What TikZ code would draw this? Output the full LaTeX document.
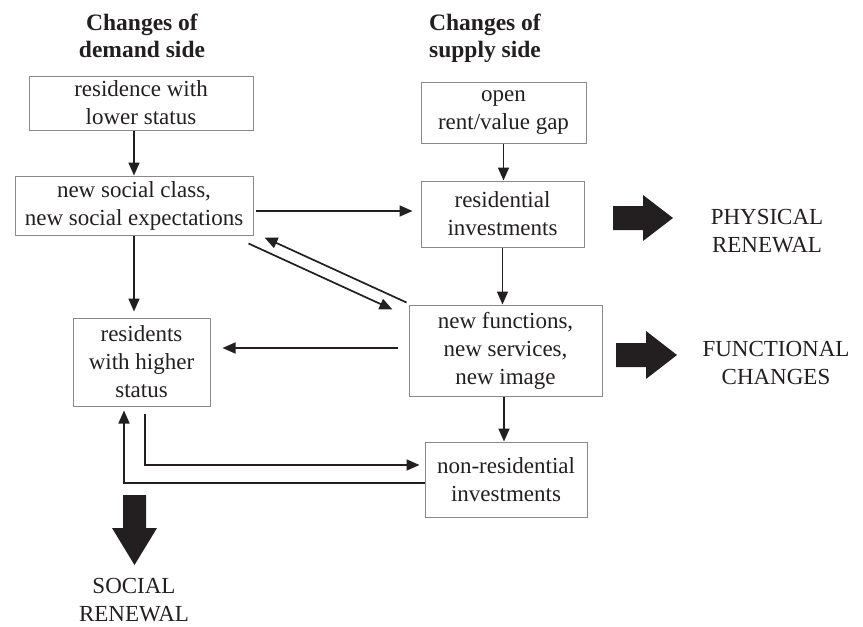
\documentclass[tikz,border=0pt]{standalone}
\usepackage{fontspec}
\setmainfont{Liberation Serif}
\usetikzlibrary{calc,arrows.meta}
\definecolor{ink}{HTML}{231F20}
\definecolor{frame}{HTML}{8A8A8A}
\begin{document}
\begin{tikzpicture}[x=1pt,y=-1pt,
  txt/.style={font=\fontsize{23}{28}\selectfont, text=ink, align=center, inner sep=0pt},
  box/.style={txt, draw=frame, line width=1pt, rectangle},
  head/.style={font=\fontsize{23.5}{27}\selectfont\bfseries, text=ink, align=center, inner sep=0pt, anchor=north},
  arr/.style={draw=ink, line width=1.7pt, -{Triangle[length=13pt,width=11pt]}}]
\useasboundingbox (0,0) rectangle (863,627);

% column headings
\node[head] (hdemand) at (142,13.5) {Changes of\\demand side};
\node[head] (hsupply) at (485,13.5) {Changes of\\supply side};

% demand side
\node[box, minimum width=224pt, minimum height=54pt] (A) at (141,103) {residence with\\lower status};
\node[box, minimum width=238pt, minimum height=59pt] (B) at (134,205.5) {new social class,\\new social expectations};
\node[box, minimum width=137pt, minimum height=88pt] (C) at (141.5,362) {residents\\with higher\\status};

% supply side
\node[box, minimum width=165pt, minimum height=61pt] (D) at (503.5,112.5) {open\\rent/value gap};
\node[box, minimum width=163pt, minimum height=66pt] (E) at (502.5,214) {residential\\investments};
\node[box, minimum width=193pt, minimum height=91pt] (F) at (505.5,350.5) {new functions,\\new services,\\new image};
\node[box, minimum width=162pt, minimum height=75pt] (G) at (506,479.5) {non-residential\\investments};

% outcomes
\node[txt] (phys) at (767,231.5) {PHYSICAL\\RENEWAL};
\node[txt] (func) at (776,362.7) {FUNCTIONAL\\CHANGES};
\node[txt] (soc) at (134,600) {SOCIAL\\RENEWAL};

% block arrows pointing to the outcomes
\fill[ink] (613,206) -- (643,206) -- (643,195) -- (673,218) -- (643,241) -- (643,230) -- (613,230) -- cycle;
\fill[ink] (616,343) -- (646,343) -- (646,331) -- (677,355) -- (646,379) -- (646,367) -- (616,367) -- cycle;
\fill[ink] (123,495) -- (146,495) -- (146,528) -- (157,528) -- (134.5,565) -- (112,528) -- (123,528) -- cycle;

% connector end points
\coordinate (be) at ($(B.east)+(2,5.5)$);
\coordinate (fw) at ($(F.west)+(-11,-2.5)$);
\coordinate (fs) at ($(F.south)+(-1.5,0)$);
\coordinate (cs) at ($(C.south)+(3.5,7)$);
\coordinate (gw) at ($(G.west)+(-5,-14.5)$);
\coordinate (cu) at ($(C.south)+(-17.5,4)$);

% connectors
\draw[arr] (A.south -| B.north) -- (B.north);
\draw[arr] (D.south) -- (D.south |- E.north);
\draw[arr, shorten >=8pt] (be) -- (be -| E.west);
\draw[arr] (E.south) -- (E.south |- F.north);
\draw[arr, shorten >=6pt] (B.south) -- (B.south |- C.north);
\draw[arr] ($(B.south east)+(-5,8)$) -- ($(F.north west)+(-16,5)$);
\draw[arr] ($(F.north west)+(-2,-2)$) -- ($(B.south east)+(11,2)$);
\draw[arr, shorten >=12pt] (fw) -- (fw -| C.east);
\draw[arr] (fs) -- (fs |- G.north);
\draw[arr] (cs) |- (gw);
\draw[arr] ($(G.west)+(0,3.5)$) -| (cu);
\end{tikzpicture}
\end{document}
